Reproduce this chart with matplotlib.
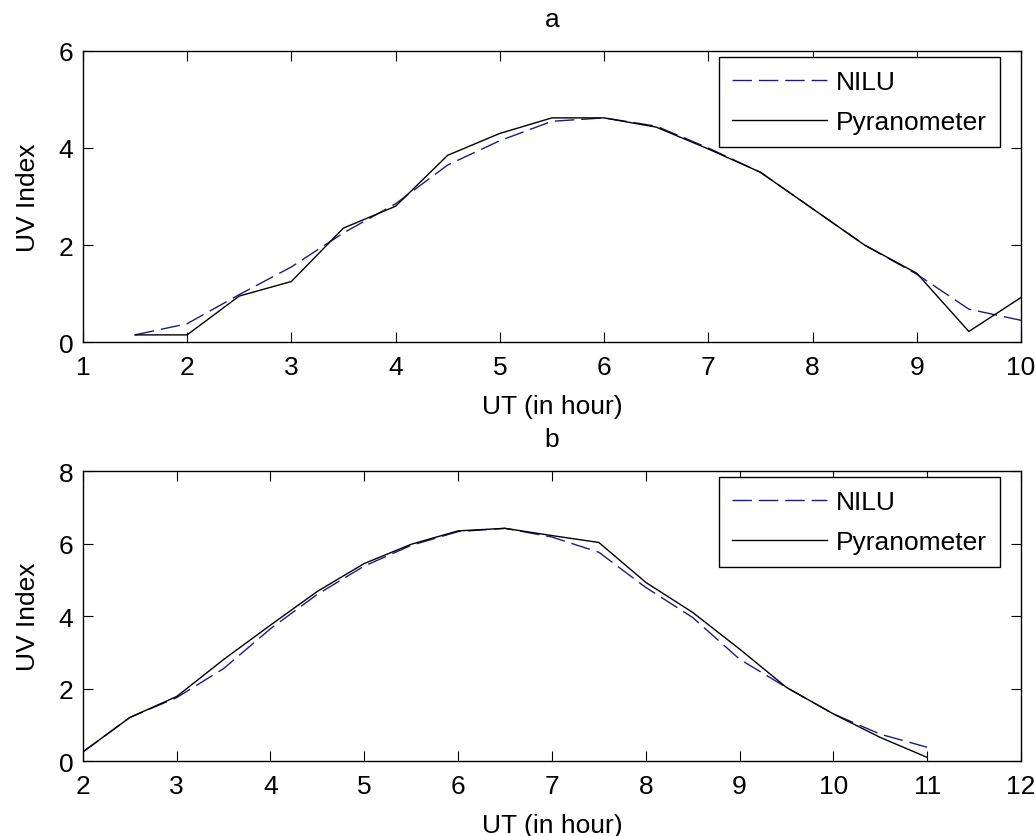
import numpy as np
import matplotlib.pyplot as plt

# ----------------------------------------------------------------------------
# dados (indice UV a cada meia hora)
# ----------------------------------------------------------------------------
ut_a = [1.5, 2.0, 2.5, 3.0, 3.5, 4.0, 4.5, 5.0, 5.5, 6.0, 6.5, 7.0, 7.5, 8.0, 8.5, 9.0, 9.5, 10.0]
nilu_a = [0.15, 0.38, 0.98, 1.55, 2.25, 2.85, 3.65, 4.15, 4.55, 4.62, 4.45, 4.00, 3.50, 2.75, 2.00, 1.40, 0.68, 0.45]
pyr_a = [0.15, 0.15, 0.95, 1.25, 2.35, 2.80, 3.85, 4.30, 4.62, 4.62, 4.43, 3.98, 3.50, 2.75, 2.00, 1.42, 0.22, 0.92]

ut_b = [2.0, 2.5, 3.0, 3.5, 4.0, 4.5, 5.0, 5.5, 6.0, 6.5, 7.0, 7.5, 8.0, 8.5, 9.0, 9.5, 10.0, 10.5, 11.0]
nilu_b = [0.25, 1.20, 1.75, 2.55, 3.65, 4.60, 5.38, 5.95, 6.33, 6.42, 6.18, 5.76, 4.79, 3.96, 2.81, 2.03, 1.30, 0.74, 0.38]
pyr_b = [0.25, 1.20, 1.78, 2.80, 3.75, 4.68, 5.45, 5.98, 6.35, 6.42, 6.22, 6.03, 4.93, 4.10, 3.09, 2.03, 1.30, 0.65, 0.10]

paineis = [
    ('a', ut_a, nilu_a, pyr_a, (1, 10), np.arange(1, 11), (0, 6), [0, 2, 4, 6]),
    ('b', ut_b, nilu_b, pyr_b, (2, 12), np.arange(2, 13), (0, 8), [0, 2, 4, 6, 8]),
]

plt.rcParams['font.family'] = ['Liberation Sans', 'DejaVu Sans']
FS = 19

fig = plt.figure(figsize=(10.36, 8.37), dpi=100)
posicoes = [[0.080, 0.590, 0.9055, 0.348], [0.080, 0.0896, 0.9055, 0.3464]]

for pos, (titulo, x, nilu, pyr, xlim, xt, ylim, yt) in zip(posicoes, paineis):
    ax = fig.add_axes(pos)
    ax.plot(x, nilu, color='#1c1c80', linestyle=(0, (14, 5)), linewidth=1.0, label='NILU')
    ax.plot(x, pyr, color='black', linestyle='-', linewidth=1.0, label='Pyranometer')
    ax.set_xlim(xlim)
    ax.set_ylim(ylim)
    ax.set_xticks(xt)
    ax.set_yticks(yt)
    ax.tick_params(direction='in', top=True, right=True, length=7, width=0.8,
                   labelsize=FS)
    ax.tick_params(axis='x', pad=9)
    ax.tick_params(axis='y', pad=7)
    for s in ax.spines.values():
        s.set_linewidth(1.0)
    ax.set_title(titulo, fontsize=FS, pad=18)
    ax.set_xlabel('UT (in hour)', fontsize=FS, labelpad=11)
    ax.set_ylabel('UV Index', fontsize=FS, labelpad=13)
    leg = ax.legend(loc='upper right', bbox_to_anchor=(0.9776, 0.980), borderaxespad=0,
                    fancybox=False, framealpha=1, edgecolor='black', fontsize=FS,
                    handlelength=3.6, handletextpad=0.34, labelspacing=0.6,
                    borderpad=0.5)
    leg.get_frame().set_linewidth(1.0)

fig.savefig('out.png', dpi=100)
